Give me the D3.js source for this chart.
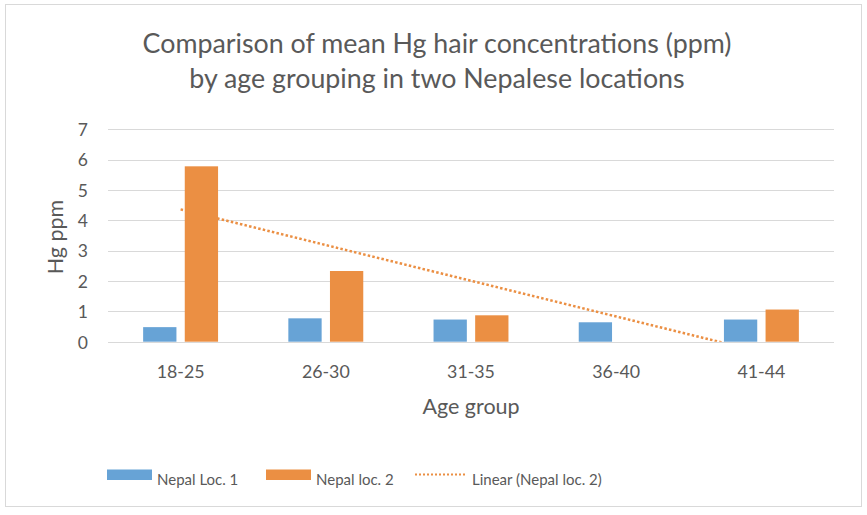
<!DOCTYPE html>
<html><head><meta charset="utf-8">
<script src="https://cdn.jsdelivr.net/npm/d3@7"></script>
<style>body{margin:0;background:#fff}svg{display:block}text{font-family:Lato,"Open Sans",sans-serif;fill:#595959}</style>
</head><body><svg id="c" width="867" height="515"></svg>
<script>
const categories = ["18-25","26-30","31-35","36-40","41-44"];
const seriesNames = ["Nepal Loc. 1","Nepal loc. 2"];
const loc1 = [0.48,0.77,0.73,0.64,0.73];
const loc2 = [5.78,2.33,0.87,0,1.06];
const yTicks = [0,1,2,3,4,5,6,7];
const titleLines = ["Comparison of mean Hg hair concentrations (ppm)","by age grouping in two Nepalese locations"];
const trendName = "Linear (Nepal loc. 2)";
const colors = ["#67A3D6","#EB8F43"];

const svg = d3.select("#c");
svg.append("rect").attr("x",5.5).attr("y",4.5).attr("width",856).attr("height",502)
  .attr("fill","#fff").attr("stroke","#d9d9d9");

const L=108,R=834,T=129.3,B=341.7;
const x0 = d3.scaleBand().domain(categories).range([L,R]).paddingInner(0.484).paddingOuter(0.242);
const x1 = d3.scaleBand().domain(seriesNames).range([0,x0.bandwidth()]).paddingInner(0.2).paddingOuter(0);
const y = d3.scaleLinear().domain([0,7]).range([B,T]);

// gridlines
svg.append("g").selectAll("line").data(yTicks).join("line")
  .attr("x1",L).attr("x2",R).attr("y1",d=>Math.round(y(d))+0.5).attr("y2",d=>Math.round(y(d))+0.5)
  .attr("stroke","#d9d9d9").attr("stroke-width",1);

// y axis labels
const yAxis = d3.axisLeft(y).tickValues(yTicks).tickSize(0).tickPadding(0).tickFormat(d3.format("d"));
const gy = svg.append("g").attr("transform",`translate(88,0)`).call(yAxis);
gy.select(".domain").remove();
gy.selectAll("text").style("font-size","17.5px").attr("fill","#595959").attr("dy","0.36em");

// x axis labels
const xAxis = d3.axisBottom(x0).tickSize(0).tickPadding(0);
const gx = svg.append("g").attr("transform",`translate(0,${B})`).call(xAxis);
gx.select(".domain").remove();
gx.selectAll("text").style("font-size","17.8px").attr("fill","#595959").attr("y",36).attr("dy",0);

// trendline (linear regression on series 2)
const xs = categories.map((c,i)=>i+1);
const n = xs.length, mx = d3.mean(xs), my = d3.mean(loc2);
const slope = d3.sum(xs.map((v,i)=>(v-mx)*(loc2[i]-my)))/d3.sum(xs.map(v=>(v-mx)*(v-mx)));
const icpt = my - slope*mx;
const xc = i => x0(categories[i]) + x0.bandwidth()/2;
const xPos = d3.scaleLinear().domain([1,n]).range([xc(0),xc(n-1)]);
svg.append("clipPath").attr("id","clip").append("rect").attr("x",L).attr("y",T-10).attr("width",R-L).attr("height",B-T+10);
svg.append("line").attr("clip-path","url(#clip)")
  .attr("x1",xPos(1)).attr("y1",y(icpt+slope*1)).attr("x2",xPos(n)).attr("y2",y(icpt+slope*n))
  .attr("stroke",colors[1]).attr("stroke-width",2.5).attr("stroke-dasharray","2.5,2.2");

// bars
const rows = categories.map((c,i)=>({c, vals:[loc1[i],loc2[i]]}));
const g = svg.append("g").selectAll("g").data(rows).join("g").attr("transform",d=>`translate(${x0(d.c)},0)`);
g.selectAll("rect").data(d=>d.vals.map((v,j)=>({v,s:seriesNames[j],j}))).join("rect")
  .attr("x",d=>x1(d.s)).attr("width",x1.bandwidth())
  .attr("y",d=>y(d.v)).attr("height",d=>B-y(d.v)).attr("fill",d=>colors[d.j]);

// bottom axis line
svg.append("line").attr("x1",L).attr("x2",R).attr("y1",Math.round(B)+0.5).attr("y2",Math.round(B)+0.5).attr("stroke","#d9d9d9");

// title
svg.append("text").attr("x",437).attr("y",53).attr("text-anchor","middle").style("font-size","26.8px").text(titleLines[0]);
svg.append("text").attr("x",437).attr("y",88).attr("text-anchor","middle").style("font-size","26.8px").text(titleLines[1]);

// axis titles
svg.append("text").attr("x",471).attr("y",414).attr("text-anchor","middle").style("font-size","21.5px").text("Age group");
svg.append("text").attr("transform","translate(63,237) rotate(-90)").attr("text-anchor","middle").style("font-size","21.5px").text("Hg ppm");

// legend
const leg = svg.append("g");
leg.append("rect").attr("x",107).attr("y",469.5).attr("width",45).attr("height",10.5).attr("fill",colors[0]);
leg.append("text").attr("x",157).attr("y",485).style("font-size","15px").text(seriesNames[0]);
leg.append("rect").attr("x",266).attr("y",469.5).attr("width",45).attr("height",10.5).attr("fill",colors[1]);
leg.append("text").attr("x",316).attr("y",485).style("font-size","15px").text(seriesNames[1]);
leg.append("line").attr("x1",415).attr("x2",466).attr("y1",474.5).attr("y2",474.5).attr("stroke",colors[1]).attr("stroke-width",2).attr("stroke-dasharray","2,2");
leg.append("text").attr("x",472).attr("y",485).style("font-size","15px").text(trendName);
</script></body></html>
